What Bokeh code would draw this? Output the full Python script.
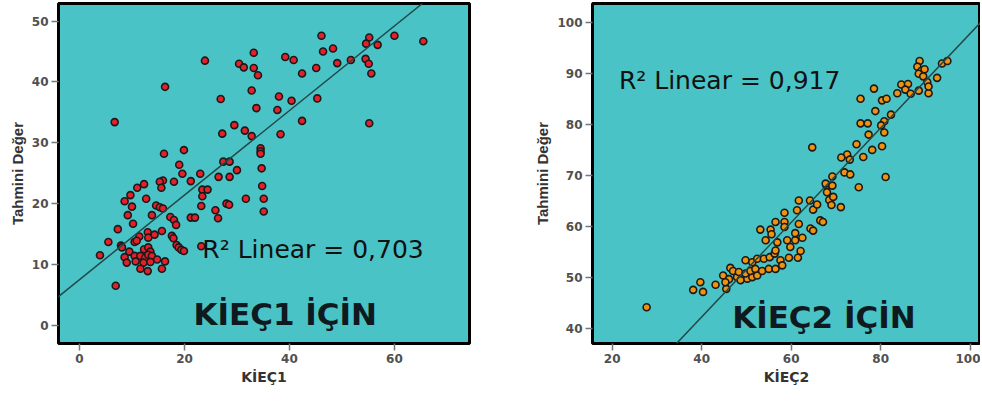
from bokeh.plotting import figure
from bokeh.layouts import row
from bokeh.models import Range1d, FixedTicker, Slope, Label
from bokeh.embed import file_html
from bokeh.resources import INLINE

# ---------------- data ----------------
kiec1_x = [46.1,55.2,60.0,65.5,54.6,56.8,33.2,48.3,46.4,23.9,
           39.2,40.8,30.4,31.3,33.2,34.0,51.7,54.5,55.1,49.1,
           45.1,42.4,55.6,16.3,32.8,26.9,38.0,40.4,45.3,33.7,
           37.7,42.4,55.2,6.7,29.5,31.5,32.8,27.2,38.3,34.5,
           34.5,34.5,16.1,19.9,27.4,28.6,19.0,30.0,34.7,23.0,
           19.6,26.5,28.6,21.2,18.0,15.9,15.3,15.6,12.3,11.0,
           34.8,23.4,24.4,23.4,35.1,31.7,12.7,9.7,8.6,10.0,
           23.2,28.0,28.5,14.6,15.3,15.9,25.9,35.1,9.2,13.8,
           17.3,21.2,22.0,26.4,18.0,18.4,10.2,7.3,15.7,
           13.0,14.3,11.4,13.1,17.6,17.9,5.5,7.9,8.1,10.5,
           10.9,18.5,18.9,19.4,19.9,23.2,12.3,13.1,13.5,9.5,
           8.6,10.5,11.6,12.5,13.1,13.8,3.9,9.0,10.7,12.2,
           13.5,14.8,16.3,11.6,13.0,15.7,6.9]
kiec1_pred = [47.6,47.3,47.6,46.7,46.3,46.1,44.8,45.5,45.0,43.5,
              44.1,43.6,43.0,42.4,42.3,41.1,43.6,43.8,43.0,43.1,
              42.3,41.4,41.4,39.2,38.6,37.2,37.6,36.9,37.3,35.7,
              35.4,33.6,33.2,33.4,32.9,32.0,31.1,31.5,31.4,29.1,
              28.6,28.2,28.2,28.8,26.9,26.9,26.4,25.5,25.8,24.9,
              24.9,24.4,24.4,23.7,23.6,23.8,23.6,22.6,23.2,22.6,
              22.9,22.3,22.3,21.2,20.8,20.8,20.8,21.4,20.4,19.5,
              19.6,20.0,19.8,19.7,19.4,19.2,18.9,18.7,18.1,18.1,
              17.8,17.7,17.7,17.6,17.3,16.5,16.7,15.8,15.5,
              15.3,14.9,14.6,14.4,14.7,14.3,13.7,13.1,12.8,13.7,
              13.9,13.2,12.8,12.4,12.2,13.0,12.5,12.8,12.1,12.1,
              11.2,11.4,11.4,11.1,11.6,11.4,11.5,10.3,10.5,10.3,
              10.4,10.8,10.5,9.3,8.9,9.3,6.5]

kiec2_x = [39.7,38.1,40.3,43.1,45.5,44.8,46.1,45.3,46.4,47.0,
           47.9,48.7,50.2,51.3,52.4,
           48.3,49.8,50.9,52.0,53.5,55.0,56.5,
           49.8,51.3,52.4,53.9,55.2,56.3,57.6,58.0,
           59.5,61.5,62.1,
           59.8,59.1,60.9,62.5,60.9,
           56.9,56.5,54.3,
           53.1,55.4,55.6,56.5,58.5,58.5,61.7,
           58.5,61.3,61.7,64.2,64.9,65.8,64.3,64.9,66.5,67.1,
           67.9,68.0,27.7,68.5,69.4,69.0,71.1,
           64.7,75.5,78.5,80.3,81.3,78.8,75.5,77.1,77.3,82.3,
           80.8,80.1,80.8,74.6,78.1,80.3,72.5,71.2,73.1,76.1,
           71.9,73.2,69.2,81.1,67.7,69.2,75.1,
           83.7,84.6,86.1,85.5,86.7,88.5,90.7,
           88.7,88.2,89.1,89.8,88.5,89.5,90.4,90.7,92.6,93.7,94.9]
kiec2_pred = [49.1,47.6,47.2,48.6,47.8,50.4,49.7,49.1,51.9,51.3,
              50.1,49.5,49.8,50.1,50.4,
              51.1,50.8,51.3,51.7,51.3,51.7,51.7,
              53.4,53.0,53.7,53.7,54.0,54.7,53.4,52.4,
              53.9,53.9,55.2,
              56.0,57.3,57.3,57.8,58.7,
              56.9,55.3,57.3,
              59.4,59.4,58.5,60.9,60.9,59.9,60.5,
              62.7,63.2,65.1,65.1,63.3,64.3,59.6,59.2,61.2,60.9,
              68.0,66.7,44.2,65.2,65.8,64.2,63.8,
              75.5,85.0,87.0,84.7,85.0,82.6,80.2,80.2,78.0,81.9,
              80.6,79.8,78.4,76.1,75.0,75.7,74.1,73.5,73.1,73.6,
              70.6,70.2,69.8,69.7,68.4,68.0,67.7,
              86.1,87.8,87.9,86.8,86.0,86.6,86.1,
              92.4,91.3,90.5,90.8,89.9,89.4,88.3,87.4,89.1,91.9,92.4]

# fit lines (slope, intercept) and R² labels
fit1 = (0.695, 7.5)
fit2 = (0.925, 5.3)
r2_1 = "R² Linear = 0,703"
r2_2 = "R² Linear = 0,917"
title1 = "KİEÇ1 İÇİN"
title2 = "KİEÇ2 İÇİN"
xlab1, xlab2 = "KİEÇ1", "KİEÇ2"
ylab = "Tahmini Değer"
xticks1 = [0, 20, 40, 60]
yticks1 = [0, 10, 20, 30, 40, 50]
xticks2 = [20, 40, 60, 80, 100]
yticks2 = [40, 50, 60, 70, 80, 90, 100]

BG = "#4AC3C6"
H = 399


def make_fig(width, xr, yr, xt, yt, xlab, mb_left, mb_right, mb_top, mb_bottom):
    p = figure(width=width, height=H, output_backend="svg", toolbar_location=None,
               x_range=Range1d(*xr), y_range=Range1d(*yr),
               min_border_left=mb_left, min_border_right=mb_right,
               min_border_top=mb_top, min_border_bottom=mb_bottom)
    p.background_fill_color = BG
    p.border_fill_color = "white"
    p.outline_line_color = "black"
    p.outline_line_width = 3
    p.grid.visible = False
    p.xaxis.ticker = FixedTicker(ticks=xt)
    p.yaxis.ticker = FixedTicker(ticks=yt)
    for ax in (p.xaxis, p.yaxis):
        ax.axis_line_color = None
        ax.major_tick_line_color = "#777777"
        ax.major_tick_line_width = 1.5
        ax.major_tick_out = 7
        ax.major_tick_in = 0
        ax.minor_tick_line_color = None
        ax.major_label_text_font = "DejaVu Sans"
        ax.major_label_text_font_style = "bold"
        ax.major_label_text_font_size = "12px"
        ax.major_label_text_color = "#505050"
        ax.major_label_standoff = 3
        ax.axis_label_standoff = 3
        ax.axis_label_text_font_style = "bold"
        ax.axis_label_text_color = "#333333"
    p.xaxis.axis_label = xlab
    p.xaxis.axis_label_text_font = "DejaVu Sans"
    p.xaxis.axis_label_text_font_size = "14px"
    p.yaxis.axis_label = ylab
    p.yaxis.axis_label_text_font = "Liberation Sans"
    p.yaxis.axis_label_text_font_size = "15px"
    return p


p1 = make_fig(480, (-4.0, 74.3), (-3.0, 52.9), xticks1, yticks1, xlab1, 58, 11, 2, 50)
p1.add_layout(Slope(gradient=fit1[0], y_intercept=fit1[1], line_color="#234848", line_width=1.5))
p1.scatter(kiec1_x, kiec1_pred, marker="circle", size=7, fill_color="#e5202a",
           line_color="#1a1a1a", line_width=1.6)
p1.add_layout(Label(x=23.4, y=12.4, text=r2_1, text_font="DejaVu Sans", text_font_size="25px",
                    text_color="#111111", text_baseline="alphabetic"))
p1.add_layout(Label(x=21.7, y=1.8, text=title1, text_font="DejaVu Sans", text_font_style="bold",
                    text_font_size="31px", text_color="#0e1a20", text_baseline="alphabetic"))

p2 = make_fig(500, (15.6, 102.3), (37.1, 103.66), xticks2, yticks2, xlab2, 112, 0, 3, 56)
p2.add_layout(Slope(gradient=fit2[0], y_intercept=fit2[1], line_color="#234848", line_width=1.5))
p2.scatter(kiec2_x, kiec2_pred, marker="circle", size=7, fill_color="#ee9210",
           line_color="#1a1a1a", line_width=1.6)
p2.add_layout(Label(x=21.5, y=88.6, text=r2_2, text_font="DejaVu Sans", text_font_size="25px",
                    text_color="#111111", text_baseline="alphabetic"))
p2.add_layout(Label(x=46.8, y=42.2, text=title2, text_font="DejaVu Sans", text_font_style="bold",
                    text_font_size="31px", text_color="#0e1a20", text_baseline="alphabetic"))

layout = row(p1, p2)
open("out.html", "w").write(file_html(layout, INLINE))
